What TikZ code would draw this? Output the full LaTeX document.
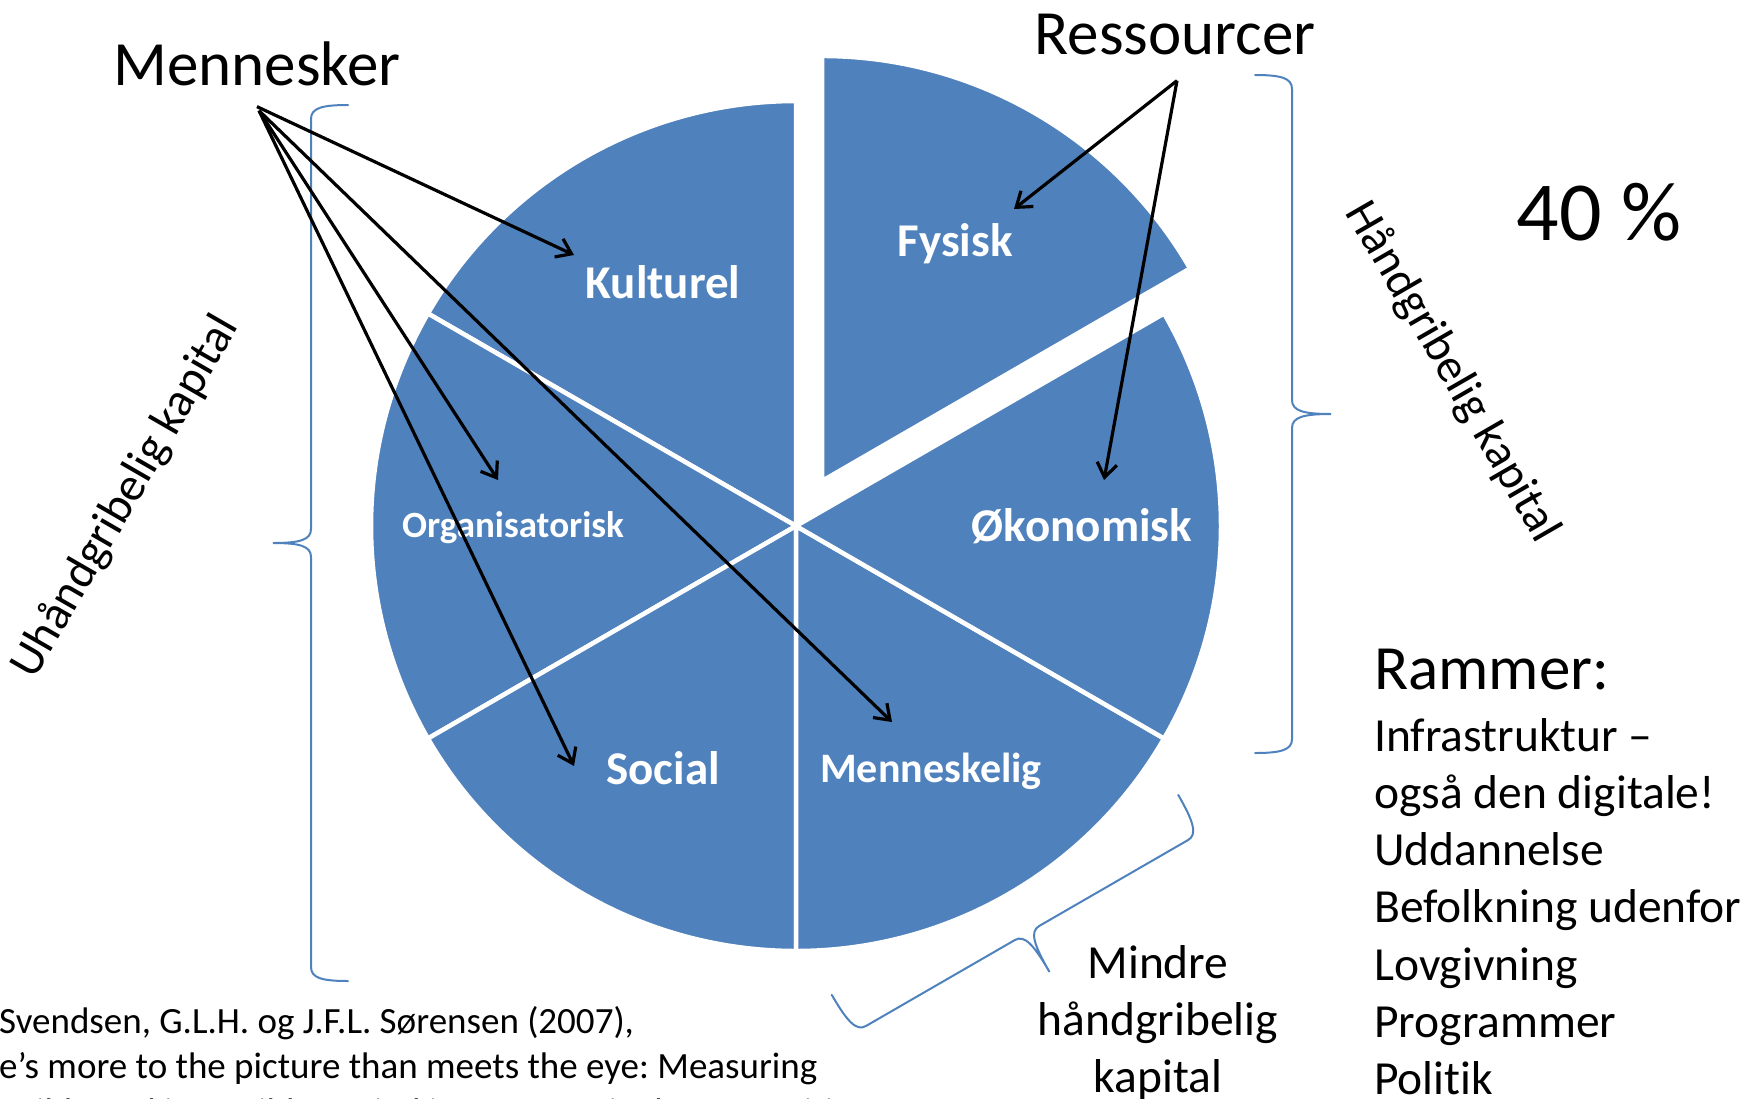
\documentclass[tikz,border=0pt]{standalone}
\usepackage{fontspec}
\setmainfont{Carlito}[Ligatures={TeX,NoCommon}]
\frenchspacing
\usetikzlibrary{arrows.meta}
\definecolor{pieblue}{HTML}{4F81BD}
% curly brace: centre, rotation, half length, end offset, tip offset
\newcommand{\curlybrace}[5]{%
  \draw[curly, shift={#1}, rotate=#2]
    (#4,-#3) .. controls (0.3*#4,-#3) and (0,-#3+3) .. (0,-#3+14)
    -- (0,-14) .. controls (0,-3) and (-0.3*#5,0) .. (-#5,0)
    .. controls (-0.3*#5,0) and (0,3) .. (0,14)
    -- (0,#3-14) .. controls (0,#3-3) and (0.3*#4,#3) .. (#4,#3);}

\begin{document}
\begin{tikzpicture}[x=1pt, y=-1pt,
  slice/.style={fill=pieblue, draw=white, line width=4.5pt},
  slicelabel/.style={text=white, anchor=base, inner sep=0pt, font=\bfseries\fontsize{47}{56}\selectfont},
  pointer/.style={black, line width=3.2pt, -{Straight Barb[length=14pt,width=20pt]}},
  curly/.style={draw=pieblue, line width=2pt, line cap=round},
  heading/.style={anchor=base, inner sep=0pt, font=\fontsize{63}{75}\selectfont},
  plain/.style={inner sep=0pt, font=\fontsize{47.5}{57}\selectfont},
  source/.style={anchor=base west, inner sep=0pt, font=\fontsize{37}{44}\selectfont}]

\useasboundingbox (0,0) rectangle (1752,1098);
\clip (0,0) rectangle (1752,1098);

%%%  pie with one slice pulled out
\begin{scope}[shift={(796,526)}, yscale=-1]
\foreach \a in {90,150,...,330}{%
	\filldraw[slice] (0,0) -- (\a:425) arc[start angle=\a, delta angle=60, radius=425] -- cycle;}
\filldraw[slice, shift={(60:52)}] (0,0) -- (30:425) arc[start angle=30, delta angle=60, radius=425] -- cycle;
\end{scope}

%%%%%%%%% slice labels %%%%%%%%
\node[slicelabel] (kulturel) at (663,298) {Kulturel};
\node[slicelabel] (fysisk) at (955,256) {Fysisk};
\node[slicelabel, font=\bfseries\fontsize{37}{44}\selectfont] (organisatorisk) at (513,537) {Organisatorisk};
\node[slicelabel] (okonomisk) at (1082,541) {Økonomisk};
\node[slicelabel] (social) at (663,784) {Social};
\node[slicelabel, font=\bfseries\fontsize{42}{50}\selectfont] (menneskelig) at (931,782) {Menneskelig};

%%%%%%%%% braces %%%%%%%%
\curlybrace{(311,543)}{0}{438}{37}{38}
\curlybrace{(1292,414)}{180}{339}{37}{39}
\curlybrace{(1027,933)}{120}{200}{44}{45}

%%%%%%%%% titles and arrows %%%%%%%%
\node[heading] (mennesker) at (257,85) {Mennesker};
\node[heading] (ressourcer) at (1175,54) {Ressourcer};

\coordinate (kulturel tip) at (574,255);
\coordinate (organisatorisk tip) at (498,480);
\coordinate (social tip) at (574,766);
\coordinate (menneskelig tip) at (892,722);
\coordinate (fysisk tip) at (1014,209);
\coordinate (okonomisk tip) at (1104,480);

\draw[pointer] ([yshift=-21pt]mennesker.south) -- (kulturel tip);
\foreach \n in {organisatorisk,social,menneskelig}{%
	\draw[pointer] ([xshift=2pt,yshift=-25pt]mennesker.south) -- (\n\space tip);}
\foreach \n in {fysisk,okonomisk}{%
	\draw[pointer] ([xshift=2pt,yshift=-26pt]ressourcer.south) -- (\n\space tip);}

%%%%%%%%% side texts %%%%%%%%
\node[plain, rotate=60] (uhaandgribelig) at (126,497) {Uhåndgribelig kapital};
\node[plain, rotate=-60] (haandgribelig) at (1452,372) {Håndgribelig kapital};
\node[heading, font=\fontsize{84}{100}\selectfont] (procent) at (1599,240) {40 \%};

\node[heading, anchor=base west] (rammer) at (1374,689) {Rammer:};
\foreach \t [count=\i from 0] in {Infrastruktur –, også den digitale!, Uddannelse, Befolkning udenfor, Lovgivning, Programmer, Politik}{%
	\node[plain, anchor=base west] (ramme\i) at (1374,751+57.3*\i) {\t};}

\foreach \t [count=\i from 0] in {Mindre, håndgribelig, kapital}{%
	\node[plain, anchor=base] (mindre\i) at (1158,978+57*\i) {\t};}

\foreach \t [count=\i from 0] in {{Svendsen, G.L.H. og J.F.L. Sørensen (2007),}, e’s more to the picture than meets the eye: Measuring, ngible and intangible capital in two marginal communities}{%
	\node[source] (kilde\i) at (-1,1033+45.5*\i) {\t};}

\end{tikzpicture}
\end{document}
